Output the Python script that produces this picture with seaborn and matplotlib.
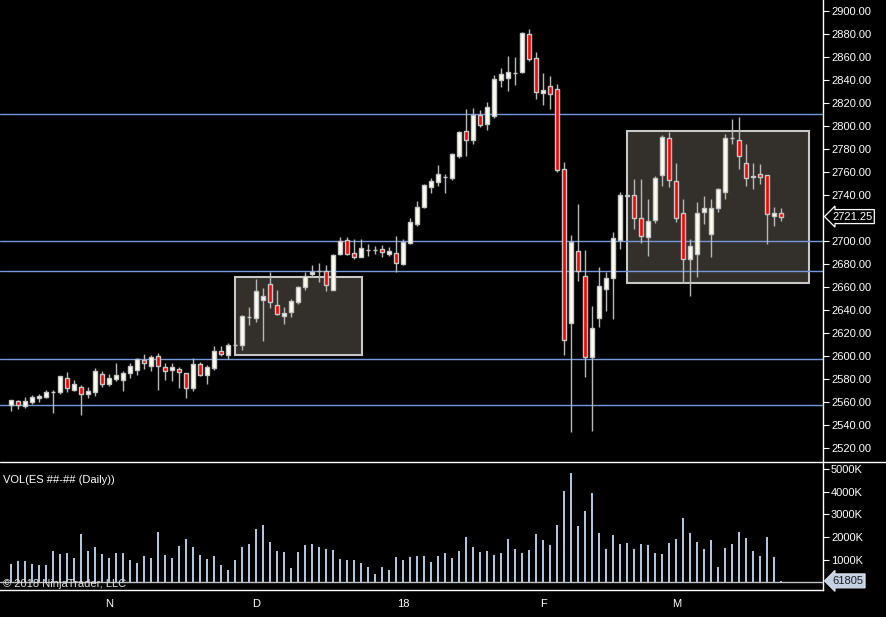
import numpy as np
import matplotlib
matplotlib.use("Agg")
import matplotlib.pyplot as plt
import matplotlib.transforms as mtrans
from matplotlib.patches import Rectangle
from matplotlib.lines import Line2D
import seaborn as sns

# daily ES bars (open, high, low, close)
opens = [2557.0, 2560.5, 2556.25, 2560.25, 2563.75, 2564.5, 2568.5, 2569.0, 2580.5, 2570.75,
         2572.75, 2567.25, 2569.0, 2584.5, 2576.0, 2580.25, 2579.5, 2585.5, 2587.75, 2596.25,
         2591.25, 2599.75, 2590.0, 2588.0, 2588.5, 2585.0, 2572.5, 2592.75, 2583.75, 2590.0,
         2604.0, 2601.25, 2609.5, 2610.0, 2633.5, 2633.25, 2649.0, 2662.25, 2644.0, 2635.0,
         2638.5, 2647.25, 2660.25, 2671.5, 2674.0, 2673.5, 2657.75, 2688.5, 2700.5, 2690.0,
         2686.5, 2691.75, 2692.25, 2692.75, 2689.0, 2690.0, 2680.25, 2698.5, 2715.0, 2729.5,
         2747.25, 2751.5, 2755.75, 2755.0, 2774.0, 2795.5, 2788.0, 2809.25, 2802.0, 2809.0,
         2840.25, 2842.0, 2846.25, 2847.25, 2879.75, 2858.75, 2829.0, 2834.5, 2832.0, 2762.25,
         2629.0, 2691.0, 2670.0, 2598.75, 2633.25, 2658.5, 2668.0, 2701.0, 2739.5, 2739.75,
         2719.75, 2703.75, 2718.0, 2757.0, 2789.25, 2752.0, 2724.0, 2684.0, 2688.5, 2725.0,
         2705.75, 2729.0, 2742.25, 2789.25, 2787.5, 2767.5, 2755.25, 2758.0, 2757.0, 2722.0,
         2724.0]
highs = [2562.0, 2562.0, 2564.25, 2566.0, 2567.0, 2570.5, 2570.5, 2582.5, 2586.0, 2579.0,
         2574.5, 2573.0, 2589.5, 2587.25, 2584.0, 2594.0, 2587.25, 2594.0, 2598.5, 2601.75,
         2601.0, 2602.25, 2594.0, 2594.0, 2590.5, 2585.0, 2598.25, 2594.5, 2592.0, 2608.75,
         2608.75, 2611.5, 2611.0, 2635.75, 2642.5, 2666.75, 2659.0, 2673.25, 2657.5, 2642.25,
         2649.25, 2661.0, 2673.25, 2678.75, 2680.5, 2678.75, 2688.5, 2703.25, 2703.25, 2701.75,
         2701.75, 2697.5, 2695.75, 2696.5, 2694.75, 2704.5, 2701.75, 2719.75, 2734.75, 2749.5,
         2754.75, 2766.0, 2758.25, 2776.25, 2795.5, 2814.75, 2815.5, 2814.0, 2821.0, 2844.25,
         2850.5, 2861.0, 2860.0, 2881.5, 2884.25, 2864.25, 2846.0, 2843.5, 2836.5, 2768.75,
         2705.25, 2732.25, 2692.25, 2643.5, 2677.0, 2672.75, 2707.5, 2742.25, 2740.75, 2753.75,
         2753.75, 2736.5, 2756.5, 2792.25, 2794.75, 2767.75, 2736.25, 2701.5, 2733.5, 2739.5,
         2736.25, 2745.75, 2792.75, 2805.75, 2807.5, 2784.25, 2767.75, 2767.0, 2757.0, 2729.5,
         2728.75]
lows = [2552.5, 2554.0, 2555.0, 2558.25, 2560.25, 2563.5, 2550.75, 2567.25, 2569.0, 2570.0,
        2549.0, 2563.5, 2565.25, 2573.0, 2574.25, 2578.5, 2570.0, 2581.25, 2583.5, 2588.75,
        2587.25, 2570.5, 2579.0, 2578.5, 2572.5, 2563.75, 2570.0, 2583.0, 2575.75, 2587.5,
        2600.25, 2597.75, 2608.0, 2605.25, 2627.25, 2629.5, 2613.25, 2642.0, 2635.5, 2628.0,
        2634.0, 2645.25, 2657.5, 2668.5, 2664.5, 2656.75, 2657.5, 2688.0, 2688.0, 2684.5,
        2686.0, 2687.25, 2688.75, 2686.5, 2687.0, 2673.25, 2679.5, 2697.5, 2713.25, 2729.0,
        2742.0, 2748.0, 2742.0, 2753.0, 2772.5, 2774.25, 2784.25, 2799.5, 2796.5, 2807.25,
        2834.25, 2830.75, 2836.0, 2846.5, 2856.75, 2823.5, 2818.25, 2815.0, 2760.25, 2601.0,
        2534.25, 2665.5, 2582.0, 2535.0, 2625.5, 2639.5, 2632.25, 2693.0, 2739.0, 2710.5,
        2698.5, 2687.25, 2715.5, 2748.0, 2747.25, 2716.75, 2663.75, 2652.5, 2669.0, 2715.0,
        2686.5, 2725.0, 2736.25, 2784.0, 2762.5, 2748.0, 2745.25, 2750.0, 2697.75, 2713.0,
        2717.5]
closes = [2561.5, 2557.75, 2560.5, 2564.0, 2565.5, 2568.5, 2569.0, 2582.25, 2572.0, 2575.5,
          2566.75, 2569.5, 2586.75, 2575.75, 2580.5, 2583.5, 2585.25, 2591.25, 2597.5, 2594.25,
          2599.0, 2591.25, 2587.25, 2590.5, 2585.75, 2572.5, 2592.75, 2583.75, 2590.25, 2604.0,
          2602.0, 2609.25, 2609.75, 2634.5, 2633.75, 2656.25, 2651.75, 2646.75, 2636.25, 2637.0,
          2647.5, 2659.75, 2670.0, 2673.25, 2674.25, 2661.5, 2687.5, 2699.75, 2689.0, 2686.5,
          2693.5, 2692.0, 2692.5, 2690.75, 2691.0, 2681.25, 2699.25, 2716.25, 2729.25, 2748.5,
          2752.0, 2758.0, 2756.0, 2775.5, 2794.5, 2788.0, 2809.25, 2801.25, 2816.25, 2840.5,
          2845.0, 2846.75, 2846.5, 2880.5, 2858.5, 2829.75, 2831.0, 2828.0, 2762.0, 2613.5,
          2699.5, 2673.5, 2598.75, 2624.0, 2660.5, 2667.5, 2702.25, 2739.75, 2740.0, 2719.75,
          2704.0, 2717.0, 2754.5, 2790.0, 2752.75, 2719.75, 2684.0, 2695.5, 2724.0, 2729.0,
          2728.5, 2745.0, 2789.25, 2789.5, 2773.5, 2754.5, 2756.5, 2756.0, 2723.25, 2724.0,
          2721.25]

# volume in thousands of contracts
volume_k = [809, 941, 941, 809, 765, 765, 1382, 1250, 1294, 1074,
            2132, 1382, 1559, 1250, 1074, 1294, 1294, 985, 853, 1162,
            1074, 2221, 1206, 1074, 1603, 1912, 1559, 1206, 1029, 1162,
            765, 544, 985, 1559, 1691, 2353, 2529, 1779, 1382, 1338,
            632, 1338, 1647, 1691, 1559, 1471, 1426, 1029, 985, 985,
            853, 676, 368, 676, 544, 1118, 985, 1118, 1162, 1162,
            897, 1162, 1294, 1074, 1382, 2000, 1559, 1338, 1382, 1206,
            1294, 1912, 1471, 1294, 1426, 2132, 1868, 1647, 2529, 4029,
            4824, 2485, 3147, 3941, 2176, 1471, 2088, 1691, 1735, 1471,
            1691, 1647, 1294, 1250, 1735, 1912, 2838, 2176, 1779, 1471,
            1868, 676, 1515, 1691, 2221, 1956, 1382, 1162, 2000, 1118,
            61.8]

# horizontal support / resistance levels
levels = [2810.5, 2700.0, 2674.0, 2597.5, 2557.5]

# shaded zones: (first bar, last bar, low price, high price)
zones = [(31.96, 50.15, 2600.6, 2668.4),
         (88.0, 113.9, 2663.2, 2795.4)]

month_pos = [14, 35, 56, 76, 95]
month_labels = ["N", "D", "18", "F", "M"]
price_ticks = list(range(2520, 2901, 20))
vol_ticks = [1000, 2000, 3000, 4000, 5000]
last_price = 2721.25
last_volume = 61805

sns.set_style("dark", {"axes.facecolor": "black", "figure.facecolor": "black"})
plt.rcParams["font.family"] = ["Liberation Sans", "DejaVu Sans"]

W, H = 887, 617
fig = plt.figure(figsize=(W / 100, H / 100), dpi=100, facecolor="black")
ax = fig.add_axes([0, 1 - 462 / H, 823 / W, 462 / H])
axv = fig.add_axes([0, 1 - 590 / H, 823 / W, 128 / H])

idx = np.arange(len(opens))
o = np.array(opens)
c = np.array(closes)
up = c >= o

# zones and level lines
for x0, x1, lo, hi in zones:
    ax.add_patch(Rectangle((x0, lo), x1 - x0, hi - lo, facecolor="#33302b",
                           edgecolor="#c8c8c8", linewidth=1.5, zorder=1))
for lv in levels:
    ax.axhline(lv, color="#7398dc", linewidth=1, zorder=1.5)

# candles
ax.vlines(idx, lows, highs, color="#b8b8b8", linewidth=1, zorder=2)
ax.bar(idx, np.abs(c - o), bottom=np.minimum(o, c), width=0.62,
       color=np.where(up, "#fffff2", "#ff0000"), edgecolor="#c8c8c8",
       linewidth=1, zorder=3)

ax.set_xlim(-11.3 / 7, (823 - 11.3) / 7)
ax.set_ylim(2900 - 451 / 1.15, 2900 + 11 / 1.15)
ax.yaxis.tick_right()
# the last-price marker covers the 2720 slot
shown_ticks = [v for v in price_ticks if v != 2720]
ax.set_yticks(shown_ticks)
ax.set_yticklabels([f"{v:.2f}" for v in shown_ticks])
ax.set_xticks([])
ax.tick_params(axis="y", colors="white", direction="out", length=4.3, width=0.8,
               labelsize=8, pad=1.5)
for s in ["left", "top", "bottom"]:
    ax.spines[s].set_visible(False)
ax.spines["right"].set_color("white")
ax.spines["right"].set_linewidth(1)
ax.grid(False)

tr = mtrans.blended_transform_factory(ax.transAxes, ax.transData)
ax.text(1.011, last_price, f"{last_price:.2f}", transform=tr, ha="left", va="center",
        fontsize=8, color="white", clip_on=False,
        bbox=dict(boxstyle="larrow,pad=0.18", fc="black", ec="white", lw=0.9))

# volume panel
sns.barplot(x=idx, y=volume_k, native_scale=True, width=0.3, color="#b0c4de",
            saturation=1, linewidth=0, ax=axv)
axv.axhline(0, color="#c0c0c0", linewidth=1, zorder=0.5)
axv.set_xlim(-11.3 / 7, (823 - 11.3) / 7)
axv.set_ylim(-340, 5307)
axv.set_xlabel("")
axv.set_ylabel("")
axv.yaxis.tick_right()
axv.set_yticks(vol_ticks)
axv.set_yticklabels([f"{v}K" for v in vol_ticks])
axv.set_xticks(month_pos)
axv.set_xticklabels(month_labels)
axv.tick_params(axis="both", colors="white", direction="out", length=4.3, width=0.8,
                labelsize=8, pad=1.5)
axv.tick_params(axis="x", pad=2)
for s in ["left", "top"]:
    axv.spines[s].set_visible(False)
for s in ["right", "bottom"]:
    axv.spines[s].set_color("white")
    axv.spines[s].set_linewidth(1)
axv.grid(False)

trv = mtrans.blended_transform_factory(axv.transAxes, axv.transData)
axv.text(1.011, last_volume / 1000, str(last_volume), transform=trv, ha="left", va="center",
         fontsize=8, color="#1a1a1a", clip_on=False,
         bbox=dict(boxstyle="larrow,pad=0.18", fc="#c4d0e4", ec="#dfe6f2", lw=0.8))

# panel separator
fig.add_artist(Line2D([0, 1], [1 - 461.5 / H, 1 - 461.5 / H], transform=fig.transFigure,
                      color="white", linewidth=1))

fig.text(3 / W, 1 - 480 / H, "VOL(ES ##-## (Daily))", color="white", fontsize=8, va="center")
fig.text(3 / W, 1 - 584 / H, "\u00a9 2018 NinjaTrader, LLC", color="#e0e0e0", fontsize=8,
         va="center")

fig.savefig("out.png", dpi=100, facecolor="black")
